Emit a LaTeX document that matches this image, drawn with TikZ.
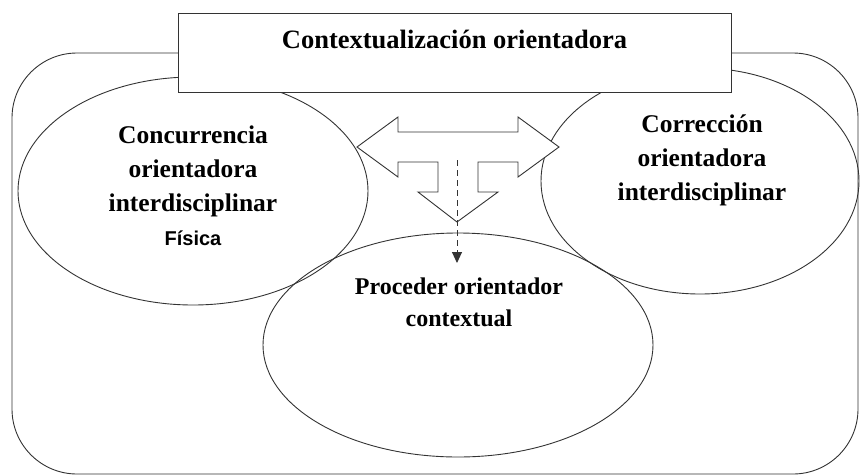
\documentclass[tikz,border=0pt]{standalone}
\usepackage{fontspec}
\setmainfont{Liberation Serif}
\newfontfamily\fisfont{Liberation Sans}
\usetikzlibrary{shapes.geometric,arrows.meta}
\begin{document}
\begin{tikzpicture}[x=1pt,y=-1pt,
  ln/.style={line width=0.9pt,draw=black!80},
  oval/.style={ln,ellipse,inner sep=0pt},
  lbl/.style={font=\bfseries\fontsize{25.5}{34}\selectfont,align=center,anchor=base,inner sep=0pt}]
\useasboundingbox (0,0) rectangle (860,475);
% outer rounded frame
\draw[ln,rounded corners=65pt] (12,53) rectangle (858,474);
% ellipses
\node[oval,minimum width=350pt,minimum height=228pt] (conc) at (193,191) {};
\node[oval,minimum width=318pt,minimum height=226pt] (corr) at (700,181) {};
\node[oval,minimum width=390pt,minimum height=224pt] (proc) at (458,345) {};
% top box
\node[ln,fill=white,minimum width=553pt,minimum height=79pt,inner sep=0pt] (ctx) at (454.5,52.5) {};
\node[lbl,font=\bfseries\fontsize{26.5}{34}\selectfont] (ctxt) at (454.5,48) {Contextualización orientadora};
% T-shaped block arrow
\draw[ln,fill=white,line join=miter] (357,147) -- (398,117) -- (398,132) -- (518,132) -- (518,117) -- (559,147)
  -- (518,177) -- (518,162) -- (478,162) -- (478,192) -- (498,192) -- (457,222) -- (418,192)
  -- (438,192) -- (438,162) -- (398,162) -- (398,177) -- cycle;
% dashed arrow
\coordinate (ds) at (457,160);
\coordinate (de) at (457,263);
\draw[ln,dash pattern=on 6pt off 4pt,-{Triangle[length=11pt,width=10pt]}] (ds) -- (de);
% labels (base anchor = baseline of last line)
\node[lbl] (conct) at (193,245) {Concurrencia\\orientadora\\interdisciplinar\\{\fisfont\fontsize{20}{34}\selectfont Física}};
\node[lbl] (corrt) at (702,200) {Corrección\\orientadora\\interdisciplinar};
\node[lbl,font=\bfseries\fontsize{24}{32}\selectfont] (proct) at (459,326) {Proceder orientador\\contextual};
\end{tikzpicture}
\end{document}
